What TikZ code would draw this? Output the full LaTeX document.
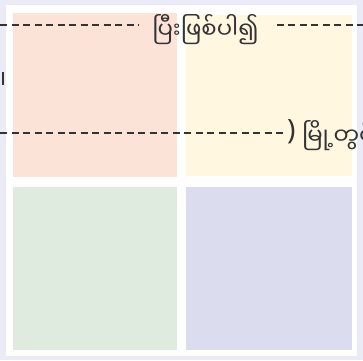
\documentclass[tikz,border=0pt]{standalone}
\usepackage{fontspec}
\newfontfamily\myfont[Script=Myanmar]{Noto Sans Myanmar UI}
\newfontfamily\parfont{Noto Sans}
\definecolor{frame}{HTML}{EBEBF7}
\definecolor{peach}{HTML}{FCE3D8}
\definecolor{cream}{HTML}{FFF7E0}
\definecolor{sage}{HTML}{E0EBDF}
\definecolor{lav}{HTML}{DBDCEE}
\definecolor{ink}{HTML}{333333}
\tikzset{
  dline/.style={draw=ink, line width=1.1pt, dash pattern=on 7pt off 4.5pt},
  lab/.style={font=\myfont\fontsize{22.8}{26}\selectfont, text=ink, inner sep=0pt}
}
\begin{document}
\begin{tikzpicture}[x=1pt,y=-1pt]
\useasboundingbox (0,0) rectangle (363,360);
\clip (0,0) rectangle (363,360);
\fill[frame] (0,0) rectangle (363,360);
\fill[white] (6,5) rectangle (357,356);
\fill[peach] (13,13) rectangle (177,177);
\fill[cream] (186,15) rectangle (352,176);
\fill[sage] (13,187) rectangle (177,350);
\fill[lav] (186,187) rectangle (352,350);
\node[lab, anchor=center] (t1) at (205.5,30) {ပြီးဖြစ်ပါ၍};
\coordinate (l1) at (0,25);
\coordinate (r1) at (363,25);
\draw[dline] (l1) -- ([xshift=-14pt]t1.west |- l1);
\draw[dline] ([xshift=18pt]t1.east |- r1) -- (r1);
\node[lab, anchor=west, font=\parfont\fontsize{28}{30}\selectfont] (p2) at (287,132) {)};
\node[lab, anchor=west] (t2) at (302,136) {မြို့တွင်};
\coordinate (l2) at (0,133);
\draw[dline] (l2) -- ([xshift=-3pt]p2.west |- l2);
\coordinate (v1) at (3,72);
\coordinate (v2) at (3,85);
\draw[ink, line width=1.2pt] (v1) -- (v2);
\end{tikzpicture}
\end{document}
